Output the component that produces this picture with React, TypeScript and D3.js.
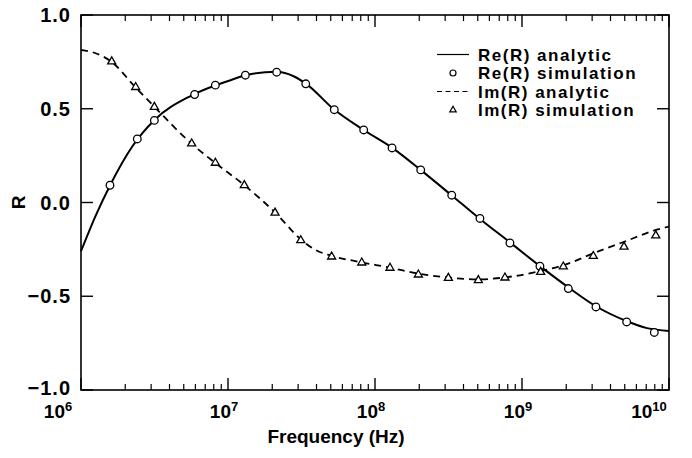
import React from "react";
import * as d3 from "d3";

// log10(frequency / Hz) and R values
const reSimExp = [6.197, 6.383, 6.499, 6.773, 6.914, 7.118, 7.331, 7.529, 7.723, 7.923, 8.116, 8.311, 8.522, 8.714, 8.918, 9.122, 9.315, 9.503, 9.712, 9.9];
const reSimR = [0.092, 0.339, 0.438, 0.576, 0.626, 0.679, 0.695, 0.633, 0.495, 0.387, 0.291, 0.174, 0.039, -0.085, -0.216, -0.34, -0.459, -0.557, -0.637, -0.693];

const imSimExp = [6.209, 6.372, 6.499, 6.753, 6.914, 7.111, 7.32, 7.495, 7.705, 7.91, 8.102, 8.295, 8.499, 8.703, 8.884, 9.127, 9.281, 9.485, 9.694, 9.91];
const imSimR = [0.752, 0.615, 0.509, 0.314, 0.211, 0.092, -0.055, -0.202, -0.289, -0.321, -0.349, -0.385, -0.403, -0.415, -0.401, -0.371, -0.342, -0.286, -0.236, -0.176];

const reAnaExp = [6.0, 6.1, 6.2, 6.35, 6.5, 6.75, 7.0, 7.15, 7.33, 7.45, 7.53, 7.72, 7.92, 8.12, 8.31, 8.52, 8.71, 8.92, 9.12, 9.32, 9.5, 9.71, 9.85, 10.0];
const reAnaR = [-0.26, -0.07, 0.095, 0.3, 0.44, 0.57, 0.648, 0.684, 0.697, 0.672, 0.634, 0.497, 0.388, 0.29, 0.174, 0.039, -0.085, -0.214, -0.338, -0.455, -0.552, -0.632, -0.67, -0.685];

const imAnaExp = [6.0, 6.1, 6.2, 6.37, 6.5, 6.75, 6.91, 7.11, 7.32, 7.5, 7.6, 7.7, 7.9, 8.1, 8.3, 8.5, 8.7, 8.9, 9.1, 9.3, 9.5, 9.7, 9.9, 10.0];
const imAnaR = [0.814, 0.796, 0.755, 0.615, 0.51, 0.315, 0.213, 0.093, -0.053, -0.2, -0.255, -0.283, -0.318, -0.347, -0.38, -0.4, -0.41, -0.398, -0.37, -0.33, -0.266, -0.208, -0.149, -0.128];

const xDecades = [6, 7, 8, 9, 10];
const yTicks = [-1.0, -0.5, 0.0, 0.5, 1.0];
const yTickLabels = ["\u22121.0", "\u22120.5", "0.0", "0.5", "1.0"];
const legendLabels = ["Re(R) analytic", "Re(R) simulation", "Im(R) analytic", "Im(R) simulation"];

const W = 692, H = 458;
const L = 81, R = 669, T = 15, B = 390;
const FONT = "'Liberation Sans', Arial, Helvetica, sans-serif";

export default function App() {
  const x = d3.scaleLog().domain([1e6, 1e10]).range([L, R]);
  const y = d3.scaleLinear().domain([-1, 1]).range([B, T]);
  const fx = (e: number) => x(Math.pow(10, e));

  const line = d3.line<[number, number]>().x(d => fx(d[0])).y(d => y(d[1])).curve(d3.curveMonotoneX);
  const rePath = line(reAnaExp.map((e, i) => [e, reAnaR[i]] as [number, number])) || "";
  const imPath = line(imAnaExp.map((e, i) => [e, imAnaR[i]] as [number, number])) || "";
  const tri = d3.symbol().type(d3.symbolTriangle).size(28)() || "";
  const triSmall = d3.symbol().type(d3.symbolTriangle).size(18)() || "";

  const minorTicks: number[] = [];
  for (let d = 6; d < 10; d++) for (let k = 2; k <= 9; k++) minorTicks.push(k * Math.pow(10, d));

  const legX = 437, legX2 = 469, legTX = 478;
  const legY = [54.5, 73, 91.5, 110];

  return (
    <svg width={W} height={H} style={{ position: "absolute", left: 0, top: 0, background: "#fff" }} fontFamily={FONT}>
      <rect x={0} y={0} width={W} height={H} fill="#fff" />
      {/* frame */}
      <rect x={L} y={T} width={R - L} height={B - T} fill="none" stroke="#000" strokeWidth={1.6} />
      {/* x ticks */}
      {xDecades.map(d => {
        const px = x(Math.pow(10, d));
        return (
          <g key={"xd" + d}>
            <line x1={px} x2={px} y1={B} y2={B - 12} stroke="#000" strokeWidth={1.4} />
            <line x1={px} x2={px} y1={T} y2={T + 12} stroke="#000" strokeWidth={1.4} />
          </g>
        );
      })}
      {minorTicks.map((v, i) => (
        <g key={"xm" + i}>
          <line x1={x(v)} x2={x(v)} y1={B} y2={B - 6} stroke="#000" strokeWidth={1.2} />
          <line x1={x(v)} x2={x(v)} y1={T} y2={T + 6} stroke="#000" strokeWidth={1.2} />
        </g>
      ))}
      {/* y ticks */}
      {yTicks.map((v, i) => (
        <g key={"y" + i}>
          <line x1={L} x2={L + 12} y1={y(v)} y2={y(v)} stroke="#000" strokeWidth={1.4} />
          <line x1={R} x2={R - 12} y1={y(v)} y2={y(v)} stroke="#000" strokeWidth={1.4} />
          <text x={71} y={y(v) - (v === -1 ? 2 : 0)} dy="0.36em" textAnchor="end" fontSize={20} fontWeight="bold" letterSpacing={1}>{yTickLabels[i]}</text>
        </g>
      ))}
      {/* x tick labels */}
      {xDecades.map(d => {
        const px = x(Math.pow(10, d));
        const anchorX = d === 6 ? 58 : d === 10 ? px - 20 : px - 4;
        return (
          <text key={"xl" + d} x={anchorX} y={418} textAnchor="middle" fontSize={19} fontWeight="bold">
            10<tspan dy={-7} fontSize={13}>{d}</tspan>
          </text>
        );
      })}
      <text x={336} y={443} textAnchor="middle" fontSize={19} fontWeight="bold">Frequency (Hz)</text>
      <text transform={`translate(18,${y(0)}) rotate(-90)`} textAnchor="middle" dy="0.36em" fontSize={19} fontWeight="bold">R</text>

      {/* curves */}
      <path d={rePath} fill="none" stroke="#000" strokeWidth={2} />
      <path d={imPath} fill="none" stroke="#000" strokeWidth={1.8} strokeDasharray="7,5" />
      {reSimExp.map((e, i) => (
        <circle key={"c" + i} cx={fx(e)} cy={y(reSimR[i])} r={3.8} fill="#fff" stroke="#000" strokeWidth={1.3} />
      ))}
      {imSimExp.map((e, i) => (
        <path key={"t" + i} d={tri} transform={`translate(${fx(e)},${y(imSimR[i])})`} fill="#fff" stroke="#000" strokeWidth={1.3} />
      ))}

      {/* legend */}
      <line x1={legX} x2={legX2} y1={legY[0]} y2={legY[0]} stroke="#000" strokeWidth={1.2} />
      <circle cx={(legX + legX2) / 2} cy={legY[1]} r={3} fill="#fff" stroke="#000" strokeWidth={1.2} />
      <line x1={legX} x2={legX2} y1={legY[2]} y2={legY[2]} stroke="#000" strokeWidth={1.2} strokeDasharray="5,3.5" />
      <path d={triSmall} transform={`translate(${(legX + legX2) / 2},${legY[3]})`} fill="#fff" stroke="#000" strokeWidth={1.2} />
      {legendLabels.map((s, i) => (
        <text key={"lg" + i} x={legTX} y={legY[i]} dy="0.36em" fontSize={17} fontWeight="bold" letterSpacing={1.5}>{s}</text>
      ))}
    </svg>
  );
}
